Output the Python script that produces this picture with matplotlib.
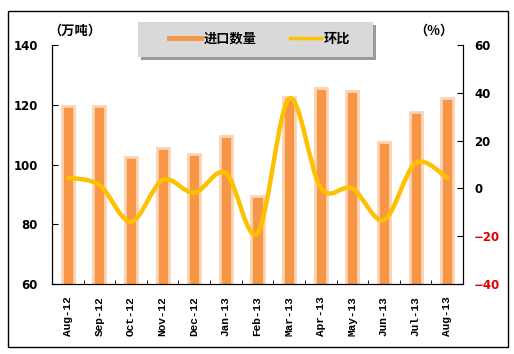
import matplotlib
matplotlib.use('Agg')
import matplotlib.pyplot as plt
import numpy as np
from matplotlib.path import Path
from matplotlib.patches import PathPatch, Rectangle
from matplotlib.lines import Line2D

plt.rcParams['font.family'] = ['Noto Sans CJK SC', 'DejaVu Sans']

months = ['Aug-12', 'Sep-12', 'Oct-12', 'Nov-12', 'Dec-12', 'Jan-13', 'Feb-13',
          'Mar-13', 'Apr-13', 'May-13', 'Jun-13', 'Jul-13', 'Aug-13']
imports = [119.6, 119.6, 102.6, 105.6, 103.6, 109.6, 89.3, 122.6, 125.6, 124.6, 107.5, 117.6, 122.4]
mom = [4.4, 1.4, -13.9, 3.5, -1.8, 6.4, -18.7, 37.5, 0.2, 0.0, -13.2, 10.6, 4.4]

BAR = '#F79646'
EDGE = '#FBD4B4'
LINE = '#FFC000'

W, H = 514, 354
fig = plt.figure(figsize=(W / 100, H / 100), dpi=100)
ax = fig.add_axes([52 / W, 1 - 284 / H, 411 / W, 239 / H])
ax2 = ax.twinx()

x = np.arange(len(months))
ax.bar(x, imports, width=0.38, color=BAR, edgecolor=EDGE, linewidth=2.0, zorder=2)
ax.set_xlim(-0.5, len(months) - 0.5)
ax.set_ylim(60, 140)
ax.set_yticks([60, 80, 100, 120, 140])
ax.set_xticks(x)
ax.set_xticklabels(months, rotation=90, family='Liberation Mono', fontweight='bold', fontsize=8)
ax.set_xticks(np.arange(len(months) + 1) - 0.5, minor=True)
ax.tick_params(axis='x', which='major', length=0, pad=9)
ax.tick_params(axis='x', which='minor', direction='in', length=3)
ax.tick_params(axis='y', direction='in', length=4, pad=10)
for lab in ax.get_yticklabels():
    lab.set_fontweight('bold')
    lab.set_fontsize(8.5)
    lab.set_family('DejaVu Sans')

# smoothed line (bezier through the data points)
pts = np.column_stack([x, mom]).astype(float)
ext = np.vstack([pts[0], pts, pts[-1]])
verts = [tuple(pts[0])]
codes = [Path.MOVETO]
for i in range(len(pts) - 1):
    p0, p1, p2, p3 = ext[i], ext[i + 1], ext[i + 2], ext[i + 3]
    c1 = p1 + (p2 - p0) / 6
    c2 = p2 - (p3 - p1) / 6
    verts += [tuple(c1), tuple(c2), tuple(p2)]
    codes += [Path.CURVE4] * 3
ax2.add_patch(PathPatch(Path(verts, codes), facecolor='none', edgecolor=LINE,
                        lw=3.2, capstyle='round', zorder=3))
ax2.set_ylim(-40, 60)
ax2.set_yticks([-40, -20, 0, 20, 40, 60])
ax2.tick_params(axis='y', direction='in', length=4, pad=8)
for lab in ax2.get_yticklabels():
    lab.set_fontweight('bold')
    lab.set_fontsize(8.5)
    lab.set_family('DejaVu Sans')
    if lab.get_text().startswith('−') or lab.get_text().startswith('-'):
        lab.set_color('#E00000')

for a in (ax, ax2):
    a.spines['top'].set_visible(False)
ax.set_zorder(1)
ax.patch.set_visible(False)
ax2.set_zorder(2)

fig.text(48 / W, 1 - 31 / H, '（万吨）', fontsize=9.5, fontweight='bold', va='center', ha='left')
fig.text(414 / W, 1 - 31 / H, '（%）', fontsize=9.5, fontweight='bold', va='center', ha='left')

# legend box with shadow
fig.patches.append(Rectangle((141 / W, 1 - 60 / H), 235 / W, 35 / H, transform=fig.transFigure,
                             facecolor='#9A9A9A', edgecolor='none', zorder=4))
fig.patches.append(Rectangle((138 / W, 1 - 57 / H), 235 / W, 35 / H, transform=fig.transFigure,
                             facecolor='#D9D9D9', edgecolor='none', zorder=4))
handles = [Line2D([], [], color=BAR, lw=3.5), Line2D([], [], color=LINE, lw=2.5)]
leg = fig.legend(handles, ['进口数量', '环比'], ncol=2, loc='center',
                 bbox_to_anchor=(260 / W, 1 - 39 / H), frameon=False,
                 prop={'weight': 'bold', 'size': 9.5}, handlelength=2.4, handletextpad=0.2,
                 columnspacing=2.5)
leg.set_zorder(5)

fig.patches.append(Rectangle((8 / W, 1 - 347 / H), 500 / W, 336 / H, transform=fig.transFigure,
                             fill=False, edgecolor='black', lw=1))

fig.savefig('out.png', dpi=100)
